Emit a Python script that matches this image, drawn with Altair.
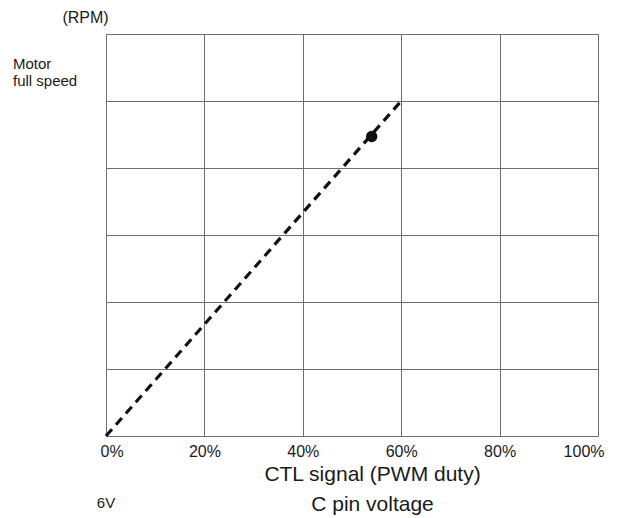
import altair as alt
import pandas as pd

# ---- data ----
duty_pct = [0, 60]          # CTL signal (PWM duty), %
speed_rows = [0, 5]         # speed in grid rows (5 = motor full speed)
point_duty = [54]
point_speed = [4.47]
x_ticks = [0, 20, 40, 60, 80, 100]
y_ticks = [0, 1, 2, 3, 4, 5, 6]
full_speed_level = [5]
full_speed_label = ["Motor\nfull speed"]
voltage_duty = [0]
voltage_label = ["6V"]

FONT = "Liberation Sans"
TXT = "#1a1a1a"
GRID = "#6e6e6e"

line_df = pd.DataFrame({"duty": duty_pct, "speed": speed_rows})
point_df = pd.DataFrame({"duty": point_duty, "speed": point_speed})
motor_df = pd.DataFrame({"level": full_speed_level, "label": full_speed_label})
volt_df = pd.DataFrame({"duty": voltage_duty, "label": voltage_label})

x_scale = alt.Scale(domain=[0, 100], nice=False)
y_scale = alt.Scale(domain=[0, 6], nice=False)

x_axis = alt.Axis(
    values=x_ticks,
    labelExpr="datum.value + '%'",
    title=["CTL signal (PWM duty)", "C pin voltage"],
    grid=True, gridColor=GRID, gridWidth=1,
    ticks=False, domain=False,
    labelFlush=True, labelFlushOffset=6,
    labelFontSize=16, labelColor=TXT, labelPadding=7, labelFont=FONT,
    titleFontSize=21, titleFontWeight="normal", titleColor=TXT, titleFont=FONT,
    titleLineHeight=30, titleX=266, titleY=27, titleBaseline="top",
)
y_axis = alt.Axis(
    values=y_ticks,
    labels=False, ticks=False, domain=False,
    grid=True, gridColor=GRID, gridWidth=1,
    title="(RPM)", titleAngle=0, titleX=-21, titleY=-17,
    titleAlign="center", titleBaseline="middle",
    titleFontSize=16, titleFontWeight="normal", titleColor=TXT, titleFont=FONT,
)

line = alt.Chart(line_df).mark_line(
    color="#111111", strokeWidth=3.2, strokeDash=[9, 6]
).encode(
    x=alt.X("duty:Q", scale=x_scale, axis=x_axis),
    y=alt.Y("speed:Q", scale=y_scale, axis=y_axis),
)

point = alt.Chart(point_df).mark_point(
    filled=True, color="#111111", size=130, opacity=1
).encode(
    x=alt.X("duty:Q", scale=x_scale),
    y=alt.Y("speed:Q", scale=y_scale),
)

motor = alt.Chart(motor_df).mark_text(
    align="left", baseline="bottom", dy=-29, lineBreak="\n",
    fontSize=15, font=FONT, color=TXT, lineHeight=17,
).encode(
    x=alt.value(-93),
    y=alt.Y("level:Q", scale=y_scale),
    text="label:N",
)

volt = alt.Chart(volt_df).mark_text(
    align="center", baseline="middle", fontSize=15, font=FONT, color=TXT,
).encode(
    x=alt.X("duty:Q", scale=x_scale),
    y=alt.value(469),
    text="label:N",
)

chart = alt.layer(line, point, motor, volt).properties(
    width=492, height=402,
    padding={"left": 5, "top": 1, "right": 5, "bottom": 5},
).configure_view(
    stroke="#333333", strokeWidth=2
).configure(background="white")

chart.save("out.html", embed_options={"renderer": "svg", "actions": False})
